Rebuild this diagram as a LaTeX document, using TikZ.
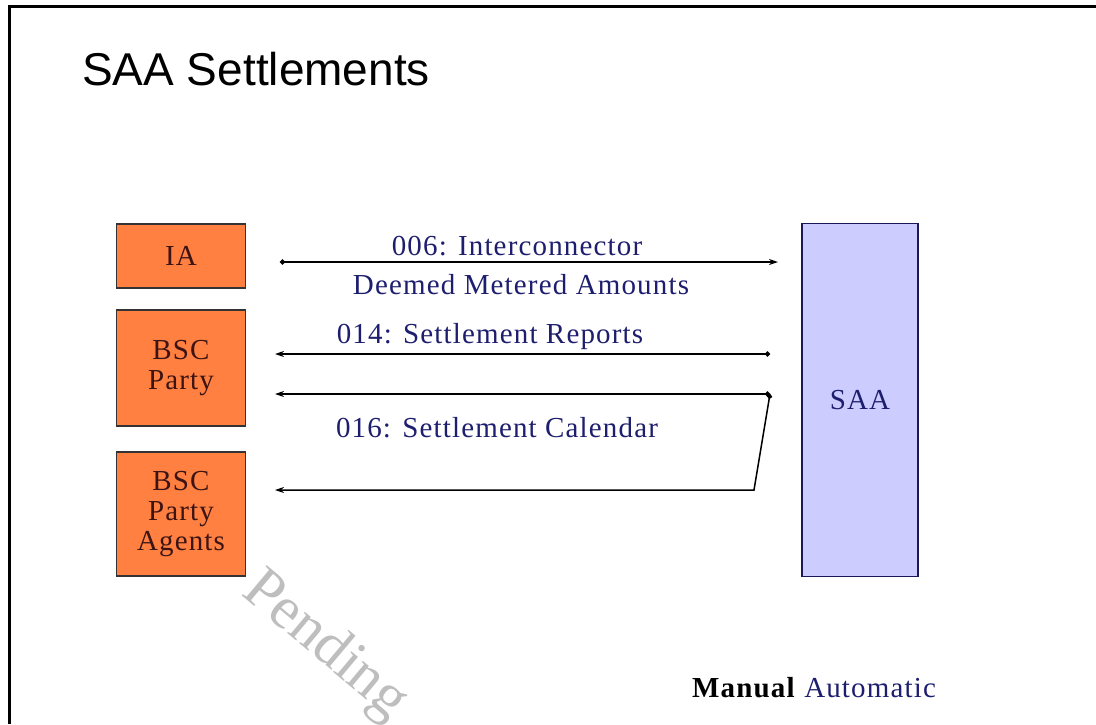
\documentclass[tikz,border=0pt]{standalone}
\usepackage{fontspec}
\setmainfont{Liberation Serif}
\setsansfont{Liberation Sans}
\newfontfamily\wideserif[LetterSpace=4]{Liberation Serif}
\usetikzlibrary{arrows.meta}
\definecolor{partyorange}{RGB}{255,128,64}
\definecolor{saalilac}{RGB}{204,204,255}
\definecolor{flownavy}{RGB}{30,30,110}
\definecolor{boxtext}{RGB}{60,20,20}
\definecolor{stampgrey}{RGB}{190,190,190}
\tikzset{
    party/.style={
        draw=black!80,
        line width=1.2pt,
        fill=partyorange,
        minimum width=129pt,
        inner sep=0pt,
        align=center,
        text=boxtext,
        font=\wideserif\fontsize{29}{30}\selectfont
    },
    flowlabel/.style={
        text=flownavy,
        inner sep=0pt,
        font=\wideserif\fontsize{29}{30}\selectfont
    },
    flow/.style={
        line width=1.5pt,
        {Circle[length=5pt]}-{Stealth[length=9pt, width=6pt]}
    }
}

\begin{document}
\begin{tikzpicture}[x=1pt, y=-1pt]
    \useasboundingbox (0,0) rectangle (1096,724);
    % Frame and title
    \draw[line width=3pt] (9,724) -- (9,6) -- (1096,6);
    \node[anchor=base west, inner sep=0pt, font=\sffamily\fontsize{46}{48}\selectfont] (title) at (82,85) {SAA Settlements};

    % Participants
    \node[party, minimum height=64pt] (IA) at (181,256) {IA};
    \node[party, minimum height=116pt] (BSC) at (181,368) {BSC\\Party};
    \node[party, minimum height=124pt] (AGT) at (181,514) {BSC\\Party\\Agents};
    \node[party, fill=saalilac, draw=flownavy!80!black, text=flownavy, minimum width=116pt, minimum height=353pt] (SAA) at (860,400) {SAA};

    % Flow end points
    \coordinate (iaout) at (280,262);
    \coordinate (saain) at (778,262);
    \coordinate (repout) at (770,354);
    \coordinate (repin) at (275,354);
    \coordinate (calout) at (770,394);
    \coordinate (calin) at (275,394);
    \coordinate (calbend) at (754,490);
    \coordinate (agtin) at (275,490);

    % Flows
    \draw[flow] (iaout) -- (saain);
    \draw[flow] (repout) -- (repin);
    \draw[flow] (calout) -- (calin);
    \draw[flow] (calout) -- (calbend) -- (agtin);

    % Flow labels
    \node[flowlabel] (l006a) at (517,246) {006: Interconnector};
    \node[flowlabel] (l006b) at (521,285) {Deemed Metered Amounts};
    \node[flowlabel] (l014) at (490,337) {014: Settlement Reports};
    \node[flowlabel] (l016) at (497,428) {016: Settlement Calendar};

    % Legend and stamp
    \node[anchor=base west, inner sep=0pt, font=\wideserif\fontsize{29}{30}\selectfont] (legend) at (692,697) {\textbf{Manual} \textcolor{flownavy}{Automatic}};
    \node[anchor=base west, inner sep=0pt, rotate=-40, text=stampgrey, font=\fontsize{60}{62}\selectfont] (stamp) at (240,594) {Pending};
\end{tikzpicture}
\end{document}
